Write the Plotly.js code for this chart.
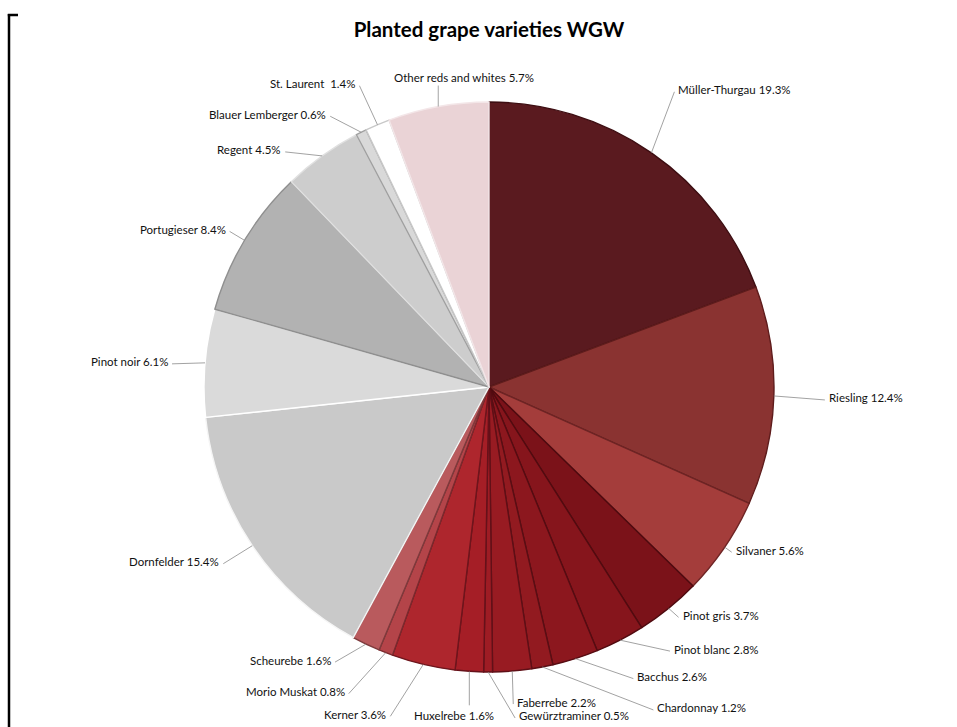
<!DOCTYPE html>
<html>
<head>
<meta charset="utf-8">
<script src="https://cdn.plot.ly/plotly-3.0.1.min.js"></script>
<style>
html,body{margin:0;padding:0;background:#fff;}
#chart{width:957px;height:727px;}
</style>
</head>
<body>
<div id="chart"></div>
<script>
// ---- data ----
var varieties = ["Müller-Thurgau","Riesling","Silvaner","Pinot gris","Pinot blanc","Bacchus","Chardonnay","Faberrebe","Gewürztraminer","Huxelrebe","Kerner","Morio Muskat","Scheurebe","Dornfelder","Pinot noir","Portugieser","Regent","Blauer Lemberger","St. Laurent","Other reds and whites"];
var shares = [19.3,12.4,5.6,3.7,2.8,2.6,1.2,2.2,0.5,1.6,3.6,0.8,1.6,15.4,6.1,8.4,4.5,0.6,1.4,5.7];
var labelTexts = ["Müller-Thurgau 19.3%","Riesling 12.4%","Silvaner 5.6%","Pinot gris 3.7%","Pinot blanc 2.8%","Bacchus 2.6%","Chardonnay 1.2%","Faberrebe 2.2%","Gewürztraminer 0.5%","Huxelrebe 1.6%","Kerner 3.6%","Morio Muskat 0.8%","Scheurebe 1.6%","Dornfelder 15.4%","Pinot noir 6.1%","Portugieser 8.4%","Regent 4.5%","Blauer Lemberger 0.6%","St. Laurent  1.4%","Other reds and whites 5.7%"];

// ---- styling ----
var sliceColors = ["#5a1a1f","#8a3331","#a43d3b","#7b1219","#86151c","#8c171e","#921a20","#981b22","#9e1c24","#a51e26","#ae262d","#b44449","#b95a5d","#c9c9c9","#dadada","#b2b2b2","#cdcdcd","#d9d9d9","#ffffff","#ead3d6"];
var lineColors = ["#3d0e12","#5e1c1c","#6e2424","#4e0a0f","#520b10","#560c12","#5a0e14","#5e0f16","#621018","#66111a","#6e151c","#7a2a2e","#7e3a3c","#f5f5f5","#ffffff","#8f8f8f","#e0e0e0","#a0a0a0","#c8c8c8","#f3e6e8"];
// label leader offsets in pixels [dx, dy, side]
var labelLayout = [[23,-61,"l"],[51,4,"l"],[7,5,"l"],[10,9,"l"],[50,11,"l"],[58,20,"l"],[111,43,"l"],[1,33,"l"],[27,46,"l"],[0,34,"b"],[-33,52,"r"],[-37,41,"r"],[-31,18,"r"],[-29,18,"r"],[-33,1,"r"],[-15,-9,"r"],[-37,-4,"r"],[-31,-16,"r"],[-18,-39,"r"],[0,-21,"t"]];

var W = 957, H = 727;
var cx = 489, cy = 387, R = 285;
var domX = [(cx - R) / W, (cx + R) / W];
var domY = [1 - (cy + R) / H, 1 - (cy - R) / H];

var total = shares.reduce(function(a,b){return a+b;},0);
var shapes = [], annotations = [];
var cum = 0;
for (var i = 0; i < shares.length; i++) {
  var mid = (cum + shares[i] / 2) / total;
  cum += shares[i];
  var th = mid * 2 * Math.PI;
  var px = cx + R * Math.sin(th), py = cy - R * Math.cos(th);
  var lay = labelLayout[i];
  var lx = px + lay[0], ly = py + lay[1];
  shapes.push({type:"line", xref:"paper", yref:"paper", x0:px/W, y0:1-py/H, x1:lx/W, y1:1-ly/H, line:{color:"#8a8a8a", width:0.8}});
  var a = {x:lx/W, y:1-ly/H, xref:"paper", yref:"paper", text:labelTexts[i], showarrow:false,
    font:{family:"Lato, 'Open Sans', sans-serif", size:11.5, color:"#111"}};
  if (lay[2] === "l") { a.xanchor = "left"; a.yanchor = "middle"; a.xshift = 2; a.yshift = 2; }
  else if (lay[2] === "r") { a.xanchor = "right"; a.yanchor = "middle"; a.xshift = -2; a.yshift = 2; }
  else if (lay[2] === "b") { a.xanchor = "center"; a.yanchor = "top"; a.xshift = -15; a.yshift = -2; }
  else { a.xanchor = "center"; a.yanchor = "bottom"; a.xshift = 26; a.yshift = 0; }
  annotations.push(a);
}

// frame bracket on the left
shapes.push({type:"line", xref:"paper", yref:"paper", x0:9/W, x1:9/W, y0:1-14/H, y1:0, line:{color:"#000", width:2.5}});
shapes.push({type:"line", xref:"paper", yref:"paper", x0:7.8/W, x1:18/W, y0:1-15/H, y1:1-15/H, line:{color:"#000", width:2.5}});

var trace = {
  type: "pie",
  labels: varieties,
  values: shares,
  sort: false,
  direction: "clockwise",
  rotation: 0,
  textinfo: "none",
  hoverinfo: "label+percent",
  marker: {colors: sliceColors, line: {color: lineColors, width: 1.4}},
  domain: {x: domX, y: domY}
};

var layout = {
  width: W, height: H,
  margin: {l:0, r:0, t:0, b:0},
  paper_bgcolor: "#fff",
  showlegend: false,
  title: {text: "<b>Planted grape varieties WGW</b>", x: 489/W, xanchor: "center", y: 1 - 30/H, yanchor: "middle",
          font: {family: "Lato, 'Open Sans', sans-serif", size: 20.5, color: "#000"}},
  shapes: shapes,
  annotations: annotations
};

Plotly.newPlot("chart", [trace], layout, {displayModeBar: false, staticPlot: true});
</script>
</body>
</html>
